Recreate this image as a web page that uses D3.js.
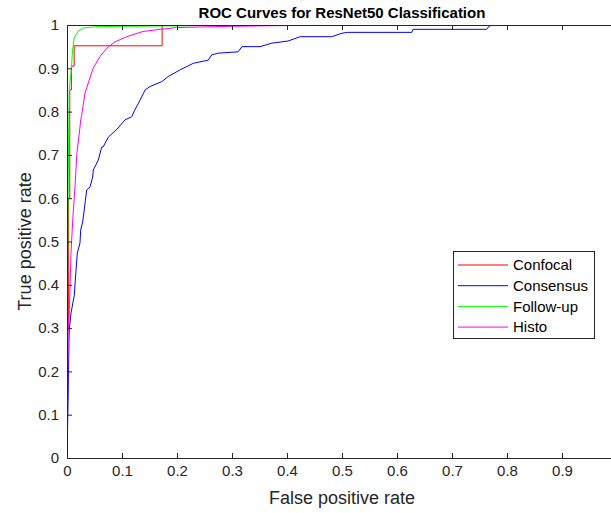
<!DOCTYPE html>
<html>
<head>
<meta charset="utf-8">
<script src="https://cdn.jsdelivr.net/npm/d3@7"></script>
<style>
body{margin:0;background:#fff;}
svg{display:block;font-family:"Liberation Sans",Arial,sans-serif;}
</style>
</head>
<body>
<svg id="chart" width="611" height="513"></svg>
<script>
const seriesNames = ["Confocal","Consensus","Follow-up","Histo"];
const seriesColors = ["#ff0000","#0000ff","#00ff00","#ff00ff"];
const xTicks = [0,0.1,0.2,0.3,0.4,0.5,0.6,0.7,0.8,0.9,1];
const xTickLabels = ["0","0.1","0.2","0.3","0.4","0.5","0.6","0.7","0.8","0.9",""];
const yTicks = [0,0.1,0.2,0.3,0.4,0.5,0.6,0.7,0.8,0.9,1];
const yTickLabels = ["0","0.1","0.2","0.3","0.4","0.5","0.6","0.7","0.8","0.9","1"];

const confocalFpr = [0,0,0.003,0.003,0.005,0.005,0.008,0.008,0.013,0.013,0.173,0.173,1];
const confocalTpr = [0,0.3,0.3,0.6,0.6,0.85,0.85,0.905,0.905,0.952,0.952,1,1];

const consensusFpr = [0,0.002,0.0036,0.0042,0.0073,0.0133,0.0151,0.0187,0.0236,0.0249,0.0285,0.0358,0.0418,0.0467,0.0478,0.0569,0.0631,0.0655,0.0751,0.0836,0.0927,0.1055,0.1176,0.1236,0.133,0.142,0.151,0.172,0.184,0.205,0.2296,0.257,0.263,0.275,0.311,0.318,0.351,0.372,0.402,0.424,0.481,0.5,0.51,0.627,0.629,0.763,0.768,0.778,1];
const consensusTpr = [0,0.134,0.2725,0.2956,0.335,0.376,0.411,0.473,0.4965,0.5266,0.545,0.619,0.626,0.649,0.665,0.688,0.718,0.718,0.741,0.751,0.762,0.781,0.788,0.804,0.827,0.85,0.858,0.869,0.881,0.896,0.9115,0.919,0.931,0.935,0.938,0.95,0.95,0.958,0.963,0.973,0.973,0.981,0.983,0.983,0.99,0.99,0.998,1,1];

const followFpr = [0,0.001,0.002,0.003,0.004,0.008,0.01,0.013,0.02,0.03,0.05,0.1,0.2,0.35,1];
const followTpr = [0,0.4,0.6,0.75,0.85,0.9,0.94,0.97,0.985,0.993,0.996,0.997,0.998,1,1];

const histoFpr = [0,0.001,0.002,0.0036,0.0055,0.0073,0.0104,0.0145,0.018,0.022,0.025,0.0267,0.0327,0.0478,0.06,0.072,0.087,0.1085,0.138,0.169,0.199,0.26,0.35,0.5,1];
const histoTpr = [0,0.15,0.289,0.319,0.395,0.473,0.55,0.626,0.704,0.746,0.781,0.792,0.843,0.901,0.927,0.946,0.961,0.973,0.985,0.99,0.994,0.996,0.998,1,1];

const fprs = [confocalFpr, consensusFpr, followFpr, histoFpr];
const tprs = [confocalTpr, consensusTpr, followTpr, histoTpr];

const svg = d3.select("#chart");
const L = 67, R = 617, T = 25, B = 458;
const x = d3.scaleLinear().domain([0,1]).range([L,R]);
const y = d3.scaleLinear().domain([0,1]).range([B,T]);
const axisColor = "#262626";

svg.append("defs").append("clipPath").attr("id","clip")
  .append("rect").attr("x",L).attr("y",T).attr("width",R-L).attr("height",B-T);

// curves
const line = d3.line().x(d=>x(d[0])).y(d=>y(d[1]));
const g = svg.append("g").attr("clip-path","url(#clip)");
seriesNames.forEach((n,i)=>{
  const pts = fprs[i].map((f,j)=>[f,tprs[i][j]]);
  g.append("path").datum(pts).attr("d",line)
    .attr("fill","none").attr("stroke",seriesColors[i]).attr("stroke-width",1);
});

// axes
const xAxisB = d3.axisBottom(x).tickValues(xTicks).tickSize(-5).tickPadding(7).tickFormat((d,i)=>xTickLabels[i]);
const xAxisT = d3.axisTop(x).tickValues(xTicks).tickSize(-5).tickFormat("");
const yAxisL = d3.axisLeft(y).tickValues(yTicks).tickSize(-5).tickPadding(8).tickFormat((d,i)=>yTickLabels[i]);
const yAxisR = d3.axisRight(y).tickValues(yTicks).tickSize(-5).tickFormat("");

function style(sel){
  sel.select(".domain").attr("stroke",axisColor);
  sel.selectAll(".tick line").attr("stroke",axisColor);
  sel.selectAll(".tick text").attr("fill",axisColor).style("font-size","15px")
    .style("font-family","'Liberation Sans',Arial,sans-serif");
}
svg.append("g").attr("transform",`translate(0,${B})`).call(xAxisB).call(style);
svg.append("g").attr("transform",`translate(0,${T})`).call(xAxisT).call(style);
svg.append("g").attr("transform",`translate(${L},0)`).call(yAxisL).call(style);
svg.append("g").attr("transform",`translate(${R},0)`).call(yAxisR).call(style);
svg.selectAll(".domain").attr("stroke-width",1);

// title & labels
svg.append("text").attr("x",(L+R)/2).attr("y",18).attr("text-anchor","middle")
  .style("font-size","15px").style("font-weight","bold").attr("fill","#000")
  .text("ROC Curves for ResNet50 Classification");
svg.append("text").attr("x",(L+R)/2).attr("y",504).attr("text-anchor","middle")
  .style("font-size","18px").attr("fill",axisColor).text("False positive rate");
svg.append("text").attr("transform",`translate(31,${(T+B)/2}) rotate(-90)`).attr("text-anchor","middle")
  .style("font-size","18px").attr("fill",axisColor).text("True positive rate");

// legend
const lg = svg.append("g");
lg.append("rect").attr("x",453.5).attr("y",251.5).attr("width",141).attr("height",87)
  .attr("fill","#fff").attr("stroke",axisColor).attr("stroke-width",1);
seriesNames.forEach((n,i)=>{
  const yy = 265 + i*20.7;
  lg.append("line").attr("x1",458).attr("x2",508).attr("y1",yy).attr("y2",yy)
    .attr("stroke",seriesColors[i]).attr("stroke-width",1);
  lg.append("text").attr("x",513).attr("y",yy).attr("dy","0.35em")
    .style("font-size","15px").attr("fill","#000").text(n);
});
</script>
</body>
</html>
